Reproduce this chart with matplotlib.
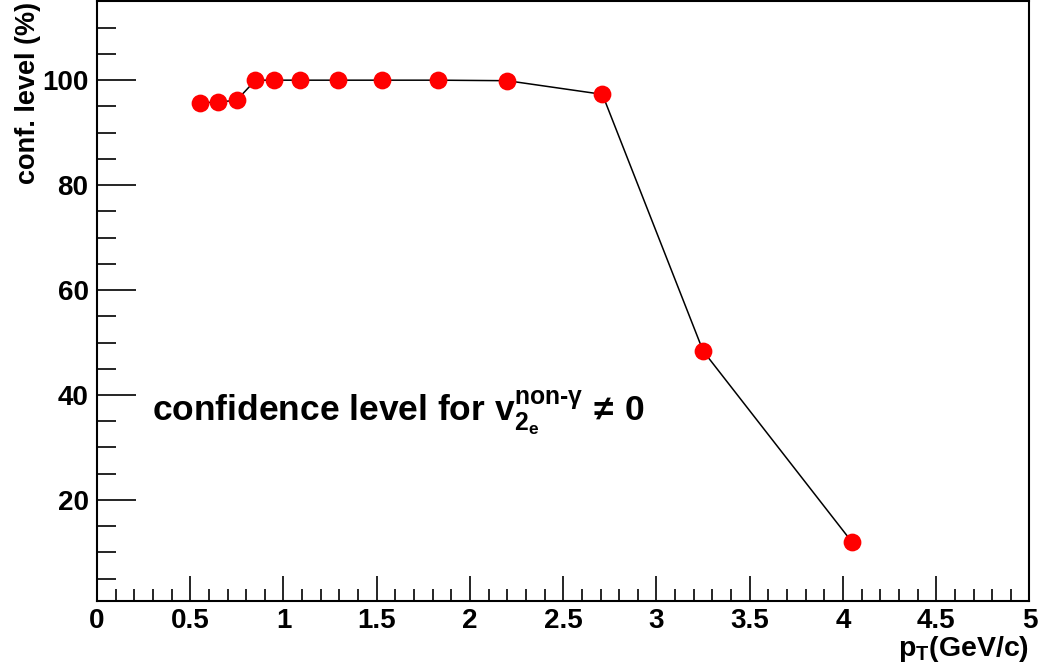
import matplotlib
matplotlib.use("Agg")
import matplotlib.pyplot as plt
from matplotlib.ticker import MultipleLocator

plt.rcParams["font.family"] = ["Liberation Sans", "DejaVu Sans"]
plt.rcParams["font.weight"] = "bold"
plt.rcParams["mathtext.fontset"] = "custom"
plt.rcParams["mathtext.rm"] = "Liberation Sans:bold"
plt.rcParams["mathtext.bf"] = "Liberation Sans:bold"
plt.rcParams["mathtext.it"] = "Liberation Sans:bold"

# data
pt = [0.55, 0.65, 0.75, 0.85, 0.95, 1.09, 1.29, 1.53, 1.83, 2.20, 2.71, 3.25, 4.05]
conf_level = [95.7, 95.8, 96.2, 100.0, 100.0, 100.0, 100.0, 100.0, 100.0, 99.9, 97.3, 48.4, 11.9]

fig = plt.figure(figsize=(10.38, 6.67), dpi=100)
ax = fig.add_axes([0.0934, 0.0994, 0.8984, 0.8984])

ax.plot(pt, conf_level, color="black", lw=1.1, zorder=2)
ax.plot(pt, conf_level, "o", color="#ff0000", markersize=12.8, markeredgewidth=0, zorder=3)

ax.set_xlim(0, 5)
ax.set_ylim(0.8, 115)
ax.xaxis.set_minor_locator(MultipleLocator(0.1))
ax.yaxis.set_major_locator(MultipleLocator(20))
ax.yaxis.set_minor_locator(MultipleLocator(5))
ax.set_xticks([0, 0.5, 1, 1.5, 2, 2.5, 3, 3.5, 4, 4.5, 5])
ax.set_xticklabels(["0", "0.5", "1", "1.5", "2", "2.5", "3", "3.5", "4", "4.5", "5"])

ax.tick_params(axis="both", which="both", direction="in", top=False, right=False,
               labelsize=20, width=1.2, pad=6)
ax.tick_params(axis="x", which="major", length=18, pad=5)
ax.tick_params(axis="x", which="minor", length=9)
ax.tick_params(axis="y", which="major", length=28)
ax.tick_params(axis="y", which="minor", length=14)
for lab in ax.get_xticklabels() + ax.get_yticklabels():
    lab.set_fontweight("bold")
for sp in ax.spines.values():
    sp.set_linewidth(1.5)

fig.text(0.027, 0.997, "conf. level (%)", rotation=90, ha="center", va="top",
         fontsize=19.5, fontweight="bold")
fig.text(0.9918, 0.049, r"$\mathbf{p}_\mathbf{T}$(GeV/c)", ha="right", va="top",
         fontsize=20.5, fontweight="bold")

ax.text(0.295, 35.1, r"confidence level for $\mathbf{v}_{\mathbf{2}_\mathbf{e}}^{\mathbf{non}\text{-}\gamma}\,\neq\,\mathbf{0}$",
        fontsize=25.5, fontweight="bold", ha="left", va="baseline")

fig.savefig("out.png", dpi=100)
